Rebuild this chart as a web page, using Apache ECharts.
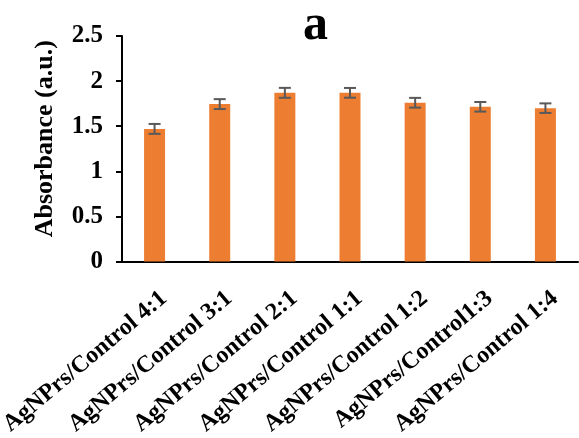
<!DOCTYPE html>
<html>
<head>
<meta charset="utf-8">
<script src="https://cdn.jsdelivr.net/npm/echarts@6/dist/echarts.min.js"></script>
<style>html,body{margin:0;padding:0;background:#fff}#c{width:579px;height:438px}</style>
</head>
<body>
<div id="c"></div>
<script>
const categories = ['AgNPrs/Control 4:1','AgNPrs/Control 3:1','AgNPrs/Control 2:1','AgNPrs/Control 1:1','AgNPrs/Control 1:2','AgNPrs/Control1:3','AgNPrs/Control 1:4'];
const values = [1.47, 1.745, 1.87, 1.87, 1.76, 1.715, 1.70];
const errors = [0.055, 0.055, 0.055, 0.054, 0.054, 0.053, 0.053];
const yTicks = [0, 0.5, 1, 1.5, 2, 2.5];

const FONT = '"Liberation Serif","Times New Roman",serif';
const chart = echarts.init(document.getElementById('c'), null, {renderer:'canvas'});
chart.setOption({
  animation: false,
  title: {
    text: 'a', left: 298, top: -4,
    textStyle: {fontFamily: FONT, fontWeight: 'bold', fontSize: 50, color: '#000'}
  },
  grid: [
    {left: 122, top: 36, width: 456, height: 225.5, containLabel: false, outerBoundsMode: 'none'},
    {left: 131.5, top: 36, width: 456, height: 225.5, containLabel: false, outerBoundsMode: 'none'}
  ],
  xAxis: [
    {
      type: 'category', data: categories, gridIndex: 0,
      axisLine: {lineStyle: {color: '#000', width: 2}},
      axisTick: {show: false},
      axisLabel: {show: false}
    },
    {
      type: 'category', data: categories, gridIndex: 1,
      axisLine: {show: false},
      axisTick: {show: false},
      axisLabel: {interval: 0, rotate: 40, margin: 34, fontFamily: FONT, fontWeight: 'bold', fontSize: 24, color: '#000'}
    }
  ],
  yAxis: [
    {
      type: 'value', gridIndex: 0, min: yTicks[0], max: yTicks[yTicks.length-1], interval: 0.5,
      name: 'Absorbance (a.u.)', nameLocation: 'middle', nameGap: 64,
      nameTextStyle: {fontFamily: FONT, fontWeight: 'bold', fontSize: 26, color: '#000', padding: [0,0,0,20]},
      axisLine: {show: true, lineStyle: {color: '#000', width: 2}},
      axisTick: {show: true, length: 6, lineStyle: {color: '#000', width: 2}},
      splitLine: {show: false},
      axisLabel: {margin: 19, fontFamily: FONT, fontWeight: 'bold', fontSize: 25, color: '#000'}
    },
    {
      type: 'value', gridIndex: 1, min: yTicks[0], max: yTicks[yTicks.length-1], show: false
    }
  ],
  series: [
    {
      type: 'bar', data: values, barWidth: 21,
      itemStyle: {color: '#ED7D31'}
    },
    {
      type: 'custom', z: 10,
      data: values.map((v, i) => [i, v - errors[i], v + errors[i]]),
      renderItem: function (params, api) {
        const lo = api.coord([api.value(0), api.value(1)]);
        const hi = api.coord([api.value(0), api.value(2)]);
        const hw = 6;
        const style = {stroke: '#595959', lineWidth: 2};
        return {
          type: 'group',
          children: [
            {type: 'line', shape: {x1: lo[0], y1: lo[1], x2: hi[0], y2: hi[1]}, style: style},
            {type: 'line', shape: {x1: lo[0]-hw, y1: lo[1], x2: lo[0]+hw, y2: lo[1]}, style: style},
            {type: 'line', shape: {x1: hi[0]-hw, y1: hi[1], x2: hi[0]+hw, y2: hi[1]}, style: style}
          ]
        };
      }
    }
  ]
});
</script>
</body>
</html>
